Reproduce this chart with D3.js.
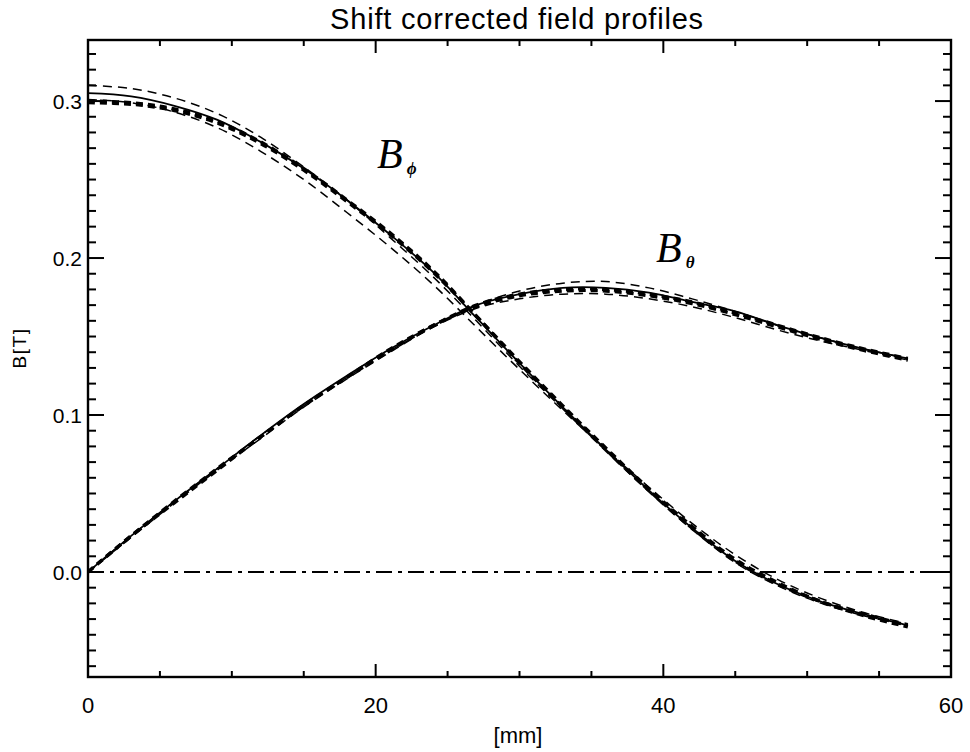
<!DOCTYPE html>
<html>
<head>
<meta charset="utf-8">
<script src="https://cdn.jsdelivr.net/npm/d3@7"></script>
<style>
  html, body { margin: 0; padding: 0; background: #fff; }
  svg text { fill: #000; }
</style>
</head>
<body>
<svg id="chart" width="970" height="752"></svg>
<script>
// Radial positions [mm]
const radius = [0, 3, 6, 9, 12, 15, 18, 21, 24, 27, 30, 33, 36, 39, 42, 45, 48, 51, 54, 57];

// Azimuthal field B_phi [T]: reference profile and shifted profiles
const bPhiRef = [0.305, 0.303, 0.297, 0.288, 0.274, 0.257, 0.237, 0.215, 0.191, 0.162, 0.133, 0.105, 0.078, 0.052, 0.028, 0.007, -0.008, -0.019, -0.027, -0.034];
const bPhiA   = [0.310, 0.308, 0.302, 0.292, 0.277, 0.258, 0.237, 0.213, 0.188, 0.160, 0.131, 0.104, 0.077, 0.051, 0.027, 0.006, -0.009, -0.020, -0.028, -0.034];
const bPhiB   = [0.301, 0.299, 0.293, 0.283, 0.268, 0.250, 0.229, 0.207, 0.183, 0.156, 0.129, 0.103, 0.078, 0.054, 0.031, 0.011, -0.005, -0.017, -0.026, -0.033];
const bPhiC   = [0.299, 0.298, 0.294, 0.286, 0.273, 0.256, 0.236, 0.215, 0.191, 0.163, 0.134, 0.106, 0.079, 0.053, 0.029, 0.008, -0.007, -0.019, -0.027, -0.034];
const bPhiD   = [0.300, 0.299, 0.295, 0.287, 0.274, 0.257, 0.237, 0.216, 0.192, 0.163, 0.133, 0.105, 0.078, 0.052, 0.028, 0.007, -0.008, -0.019, -0.028, -0.035];

// Poloidal field B_theta [T]: reference profile and shifted profiles
const bThRef = [0.000, 0.023, 0.045, 0.066, 0.087, 0.107, 0.125, 0.142, 0.157, 0.170, 0.177, 0.181, 0.181, 0.178, 0.172, 0.166, 0.157, 0.149, 0.142, 0.136];
const bThA   = [0.000, 0.023, 0.045, 0.066, 0.087, 0.106, 0.124, 0.141, 0.156, 0.170, 0.179, 0.184, 0.185, 0.181, 0.174, 0.166, 0.157, 0.149, 0.142, 0.136];
const bThB   = [0.000, 0.022, 0.044, 0.065, 0.085, 0.105, 0.123, 0.140, 0.156, 0.168, 0.174, 0.177, 0.177, 0.174, 0.169, 0.162, 0.154, 0.147, 0.141, 0.135];
const bThC   = [0.000, 0.023, 0.045, 0.066, 0.086, 0.106, 0.124, 0.141, 0.157, 0.169, 0.176, 0.179, 0.179, 0.176, 0.171, 0.164, 0.156, 0.148, 0.141, 0.135];
const bThD   = [0.000, 0.023, 0.044, 0.065, 0.086, 0.106, 0.124, 0.142, 0.157, 0.170, 0.177, 0.180, 0.180, 0.177, 0.172, 0.165, 0.157, 0.149, 0.142, 0.136];

// Axis ticks
const xMajor = [0, 20, 40, 60];
const xMinor = [5, 10, 15, 25, 30, 35, 45, 50, 55];
const yMajor = [0.0, 0.1, 0.2, 0.3];
const yMinor = [-0.06, -0.05, -0.04, -0.03, -0.02, -0.01,
  0.01, 0.02, 0.03, 0.04, 0.05, 0.06, 0.07, 0.08, 0.09,
  0.11, 0.12, 0.13, 0.14, 0.15, 0.16, 0.17, 0.18, 0.19,
  0.21, 0.22, 0.23, 0.24, 0.25, 0.26, 0.27, 0.28, 0.29,
  0.31, 0.32, 0.33];

const svg = d3.select("#chart");
const plotL = 88, plotR = 951, plotT = 40, plotB = 677;

const x = d3.scaleLinear().domain([0, 60]).range([plotL, plotR]);
const y = d3.scaleLinear().domain([-0.0669, 0.3389]).range([plotB, plotT]);

const font = "'Liberation Sans', Arial, sans-serif";

// Curves
const line = d3.line()
  .x((d, i) => x(radius[i]))
  .y(d => y(d))
  .curve(d3.curveCatmullRom.alpha(0.5));

const series = [
  { v: bPhiA, w: 1.5, dash: "9,6" },
  { v: bPhiB, w: 1.5, dash: "9,6" },
  { v: bPhiC, w: 3.4, dash: "7,5" },
  { v: bPhiD, w: 3.4, dash: "7,5" },
  { v: bPhiRef, w: 1.8, dash: null },
  { v: bThA, w: 1.5, dash: "9,6" },
  { v: bThB, w: 1.5, dash: "9,6" },
  { v: bThC, w: 3.4, dash: "7,5" },
  { v: bThD, w: 3.4, dash: "7,5" },
  { v: bThRef, w: 1.8, dash: null }
];

svg.append("g").selectAll("path")
  .data(series)
  .join("path")
  .attr("d", s => line(s.v))
  .attr("fill", "none")
  .attr("stroke", "#000")
  .attr("stroke-width", s => s.w)
  .attr("stroke-dasharray", s => s.dash);

// Zero line
svg.append("line")
  .attr("x1", x(0)).attr("x2", x(60))
  .attr("y1", y(0)).attr("y2", y(0))
  .attr("stroke", "#000")
  .attr("stroke-width", 1.8)
  .attr("stroke-dasharray", "16,6,4,6");

// Frame
svg.append("rect")
  .attr("x", plotL).attr("y", plotT)
  .attr("width", plotR - plotL).attr("height", plotB - plotT)
  .attr("fill", "none").attr("stroke", "#000").attr("stroke-width", 2.4);

// Inward ticks on all four sides
const tickG = svg.append("g").attr("stroke", "#000").attr("stroke-width", 2);
function xTicks(vals, len) {
  tickG.append("g").selectAll("line").data(vals).join("line")
    .attr("x1", d => x(d)).attr("x2", d => x(d))
    .attr("y1", plotB).attr("y2", plotB - len);
  tickG.append("g").selectAll("line").data(vals).join("line")
    .attr("x1", d => x(d)).attr("x2", d => x(d))
    .attr("y1", plotT).attr("y2", plotT + len);
}
function yTicks(vals, len) {
  tickG.append("g").selectAll("line").data(vals).join("line")
    .attr("y1", d => y(d)).attr("y2", d => y(d))
    .attr("x1", plotL).attr("x2", plotL + len);
  tickG.append("g").selectAll("line").data(vals).join("line")
    .attr("y1", d => y(d)).attr("y2", d => y(d))
    .attr("x1", plotR).attr("x2", plotR - len);
}
xTicks(xMajor, 13);
xTicks(xMinor, 6);
yTicks(yMajor, 16);
yTicks(yMinor, 8);

// Tick labels
svg.append("g").selectAll("text").data(xMajor).join("text")
  .attr("x", d => x(d)).attr("y", 713)
  .attr("text-anchor", "middle")
  .attr("font-family", font).attr("font-size", 22)
  .text(d => d3.format("d")(d));

svg.append("g").selectAll("text").data(yMajor).join("text")
  .attr("x", 82).attr("y", d => y(d) + 8)
  .attr("text-anchor", "end")
  .attr("font-family", font).attr("font-size", 21)
  .text(d => d3.format(".1f")(d));

// Titles
svg.append("text")
  .attr("x", 517).attr("y", 29)
  .attr("text-anchor", "middle")
  .attr("font-family", font).attr("font-size", 29)
  .attr("letter-spacing", 0.8)
  .text("Shift corrected field profiles");

svg.append("text")
  .attr("x", 518).attr("y", 743)
  .attr("text-anchor", "middle")
  .attr("font-family", font).attr("font-size", 22)
  .text("[mm]");

svg.append("text")
  .attr("transform", "translate(26,348) rotate(-90)")
  .attr("text-anchor", "middle")
  .attr("font-family", font).attr("font-size", 19)
  .attr("letter-spacing", 1.5)
  .text("B[T]");

// Curve labels
function fieldLabel(px, py, sub) {
  const t = svg.append("text")
    .attr("x", px).attr("y", py)
    .attr("font-family", "'Liberation Serif', 'Times New Roman', serif")
    .attr("font-style", "italic")
    .attr("font-size", 42);
  t.append("tspan").text("B");
  t.append("tspan").attr("font-size", 17).attr("font-weight", "bold")
    .attr("dx", 4).attr("dy", 6).text(sub);
}
fieldLabel(377, 168, "ϕ");
fieldLabel(656, 262, "θ");
</script>
</body>
</html>
